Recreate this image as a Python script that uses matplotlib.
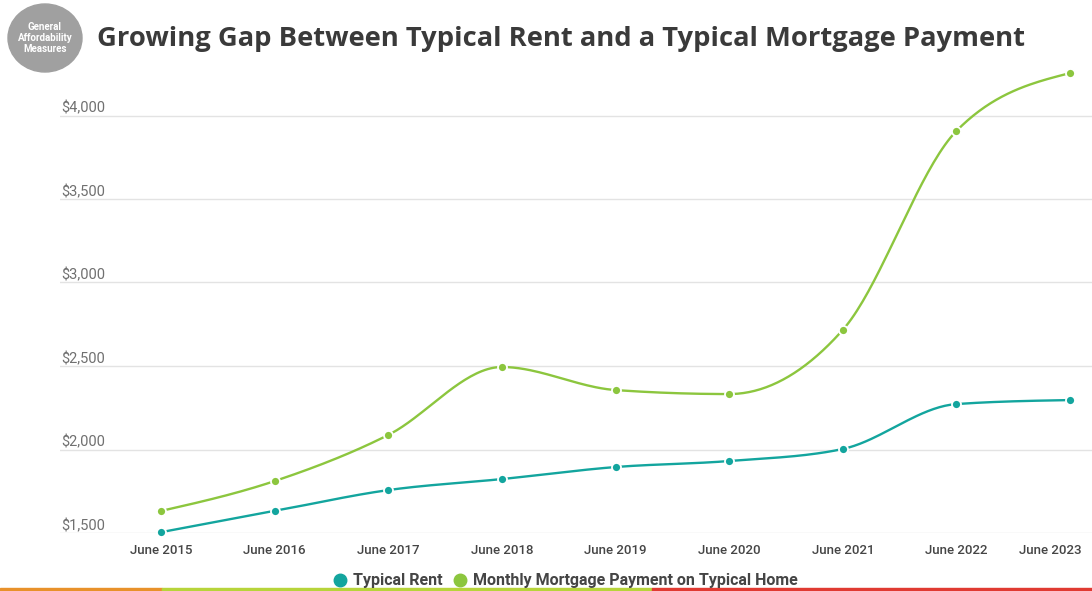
import numpy as np
import matplotlib
matplotlib.use("Agg")
import matplotlib.pyplot as plt
import matplotlib.transforms as mtransforms
from matplotlib.lines import Line2D
from matplotlib.patches import Ellipse, Rectangle

years = ["June 2015", "June 2016", "June 2017", "June 2018", "June 2019",
         "June 2020", "June 2021", "June 2022", "June 2023"]
typical_rent = [1505, 1632, 1757, 1823, 1895, 1931, 2003, 2272, 2296]
mortgage_payment = [1632, 1811, 2087, 2494, 2356, 2332, 2716, 3907, 4254]
y_ticks = [1500, 2000, 2500, 3000, 3500, 4000]
y_tick_labels = ["$1,500", "$2,000", "$2,500", "$3,000", "$3,500", "$4,000"]

TEAL = "#13a59e"
GREEN = "#8cc63e"


def monotone_curve(y, steps=40):
    # monotone cubic (steffen) like d3.curveMonotoneX
    y = np.asarray(y, dtype=float)
    x = np.arange(len(y), dtype=float)
    s = np.diff(y)
    t = np.zeros(len(y))
    for i in range(1, len(y) - 1):
        s0, s1 = s[i - 1], s[i]
        p = (s0 + s1) / 2
        t[i] = (np.sign(s0) + np.sign(s1)) * min(abs(s0), abs(s1), 0.5 * abs(p))
    t[0] = (3 * s[0] - t[1]) / 2
    t[-1] = (3 * s[-1] - t[-2]) / 2
    xs, ys = [], []
    for i in range(len(y) - 1):
        u = np.linspace(0, 1, steps, endpoint=False)
        h00 = 2 * u**3 - 3 * u**2 + 1
        h10 = u**3 - 2 * u**2 + u
        h01 = -2 * u**3 + 3 * u**2
        h11 = u**3 - u**2
        xs.append(x[i] + u)
        ys.append(h00 * y[i] + h10 * t[i] + h01 * y[i + 1] + h11 * t[i + 1])
    xs.append([x[-1]])
    ys.append([y[-1]])
    return np.concatenate(xs), np.concatenate(ys)


plt.rcParams['font.family'] = ['Roboto', 'DejaVu Sans']

W, H = 1092, 591
fig = plt.figure(figsize=(W / 100, H / 100), dpi=100)

# axes placed in pixel terms
left, right, top, bottom = 60, 1092, 65, 533
ax = fig.add_axes([left / W, 1 - bottom / H, (right - left) / W, (bottom - top) / H])
ax.set_xlim(-101 / 113.6, 8 + 22 / 113.6)
ax.set_ylim(1500, 1500 + (bottom - top) / 83.5 * 500)

for series, col in [(typical_rent, TEAL), (mortgage_payment, GREEN)]:
    cx, cy = monotone_curve(series)
    ax.plot(cx, cy, color=col, lw=1.7, clip_on=False, zorder=3, solid_capstyle="round")
    ax.plot(range(len(series)), series, "o", color=col, ms=6.5, mec="white",
            mew=1.3, clip_on=False, zorder=4)

ax.set_yticks(y_ticks)
ax.set_yticklabels(y_tick_labels)
ax.set_xticks(range(len(years)))
ax.set_xticklabels(years)
ax.grid(axis="y", color="#e3e3e3", lw=1)
ax.set_axisbelow(True)
for sp in ax.spines.values():
    sp.set_visible(False)
ax.tick_params(axis="y", length=0, pad=-1, labelsize=10.5, labelcolor="#707070")
for lbl in ax.get_yticklabels():
    lbl.set_horizontalalignment("left")
    lbl.set_verticalalignment("bottom")
ax.tick_params(axis="x", length=0, pad=8, labelsize=9.5, labelcolor="#454545")
xlabels = ax.get_xticklabels()
for lbl in xlabels:
    lbl.set_fontweight("medium")
# last label is pushed in so it stays inside the picture
xlabels[-1].set_transform(xlabels[-1].get_transform() +
                          mtransforms.ScaledTranslation(-0.2, 0, fig.dpi_scale_trans))

# legend
handles = [Line2D([], [], ls="", marker="o", color=TEAL, ms=9),
           Line2D([], [], ls="", marker="o", color=GREEN, ms=9)]
leg = fig.legend(handles, ["Typical Rent", "Monthly Mortgage Payment on Typical Home"],
                 loc="center", bbox_to_anchor=(565 / W, 1 - 581 / H), ncol=2,
                 frameon=False, handletextpad=0.3, columnspacing=0.6,
                 handlelength=1.0, prop={"weight": "bold", "size": 11.5})
for t in leg.get_texts():
    t.set_color("#454545")

# title and badge
fig.text(97 / W, 1 - 39 / H, "Growing Gap Between Typical Rent and a Typical Mortgage Payment",
         fontsize=19.7, fontweight="bold", color="#3a3a3a", va="center",
         family=["Open Sans", "DejaVu Sans"])
badge = Ellipse((45 / W, 1 - 38 / H), 74 / W, 68 / H, transform=fig.transFigure,
                color="#a0a0a0", zorder=1)
fig.patches.append(badge)
fig.text(45 / W, 1 - 38 / H, "General\nAffordability\nMeasures", ha="center", va="center",
         fontsize=7, fontweight="bold", color="white", linespacing=1.15, zorder=2)

# bottom colour stripe
for x0, x1, col in [(0, 162, "#e8912a"), (162, 652, "#b7d43a"), (652, W, "#e03a32")]:
    fig.patches.append(Rectangle((x0 / W, 0), (x1 - x0) / W, 3 / H,
                                 transform=fig.transFigure, color=col))

fig.savefig("out.png", dpi=100)
